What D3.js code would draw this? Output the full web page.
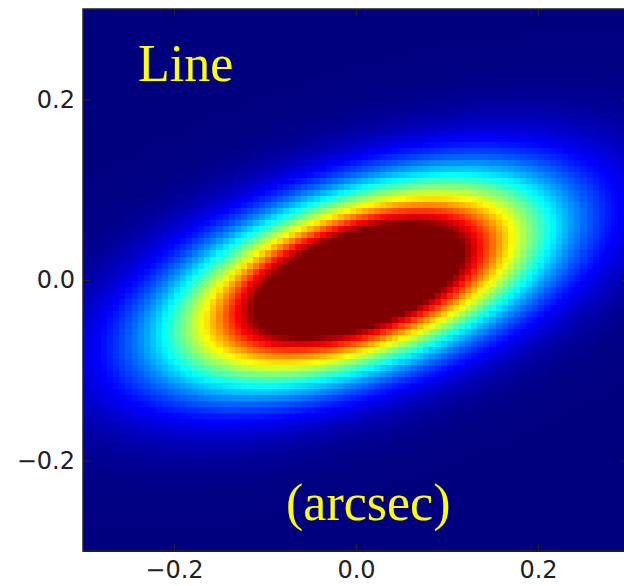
<!DOCTYPE html>
<html>
<head>
<meta charset="utf-8">
<script src="https://cdn.jsdelivr.net/npm/d3@7"></script>
<style>
  body { margin: 0; background: #fff; }
  svg { display: block; }
</style>
</head>
<body>
<svg id="chart"></svg>
<script>
// values
const extent = [-0.3, 0.3];          // arcsec, both axes
const xTicks = [-0.2, 0.0, 0.2];
const yTicks = [-0.2, 0.0, 0.2];
const center = [0.002, 0.0];         // source centre (arcsec)
const sigmas = [0.134, 0.058];       // major, minor sigma (arcsec)
const angleDeg = 19;                 // position of major axis, from +x
const peak = 1.5;                    // peak value, colour scale clips at 1
const gridSize = 90;                 // image pixels per side
const titleText = "Line";
const unitText = "(arcsec)";

const width = 624, height = 586;
const margin = { top: 9, right: -5, bottom: 35, left: 83 };
const w = width - margin.left - margin.right;
const h = height - margin.top - margin.bottom;

const svg = d3.select("#chart")
  .attr("width", width)
  .attr("height", height);

const g = svg.append("g")
  .attr("transform", "translate(" + margin.left + "," + margin.top + ")");

const x = d3.scaleLinear().domain(extent).range([0, w]);
const y = d3.scaleLinear().domain(extent).range([h, 0]);

// jet colour map
const jet = d3.scaleLinear()
  .domain([0, 0.125, 0.375, 0.625, 0.875, 1])
  .range(["#00007f", "#0000ff", "#00ffff", "#ffff00", "#ff0000", "#7f0000"])
  .clamp(true);

// build the image cells
const step = (extent[1] - extent[0]) / gridSize;
const th = angleDeg * Math.PI / 180;
const cells = [];
for (let j = 0; j < gridSize; j++) {
  for (let i = 0; i < gridSize; i++) {
    const cx = extent[0] + (i + 0.5) * step;
    const cy = extent[0] + (j + 0.5) * step;
    const dx = cx - center[0], dy = cy - center[1];
    const u = dx * Math.cos(th) + dy * Math.sin(th);
    const v = -dx * Math.sin(th) + dy * Math.cos(th);
    const val = peak * Math.exp(-0.5 * ((u / sigmas[0]) ** 2 + (v / sigmas[1]) ** 2));
    cells.push({ x0: extent[0] + i * step, y0: extent[0] + (j + 1) * step, val: val });
  }
}

g.append("g")
  .attr("shape-rendering", "crispEdges")
  .selectAll("rect")
  .data(cells)
  .enter().append("rect")
  .attr("x", d => x(d.x0))
  .attr("y", d => y(d.y0))
  .attr("width", x(step) - x(0) + 0.6)
  .attr("height", y(0) - y(step) + 0.6)
  .attr("fill", d => jet(d.val));

// annotations
g.append("text")
  .attr("x", 55)
  .attr("y", 72)
  .attr("fill", "#ffff00")
  .style("font-family", "'Liberation Serif', 'Times New Roman', serif")
  .style("font-size", "52px")
  .text(titleText);

g.append("text")
  .attr("x", 203)
  .attr("y", 511)
  .attr("fill", "#ffff00")
  .style("font-family", "'Liberation Serif', 'Times New Roman', serif")
  .style("font-size", "52px")
  .text(unitText);

// axes, ticks pointing in
const fmt = d3.format(".1f");
function styleAxis(sel) {
  sel.select(".domain").remove();
  sel.selectAll("line").attr("stroke", "#222").attr("stroke-width", 1.3);
  sel.selectAll("text")
    .attr("fill", "#222")
    .style("font-family", "'DejaVu Sans', sans-serif")
    .style("font-size", "24px");
}

g.append("g")
  .attr("transform", "translate(0," + h + ")")
  .call(d3.axisBottom(x).tickValues(xTicks).tickFormat(fmt).tickSizeInner(-7).tickPadding(10))
  .call(styleAxis);

g.append("g")
  .call(d3.axisLeft(y).tickValues(yTicks).tickFormat(fmt).tickSizeInner(-7).tickPadding(8))
  .call(styleAxis);

g.append("g")
  .call(d3.axisTop(x).tickValues(xTicks).tickFormat("").tickSizeInner(-7))
  .call(styleAxis);

g.append("g")
  .attr("transform", "translate(" + w + ",0)")
  .call(d3.axisRight(y).tickValues(yTicks).tickFormat("").tickSizeInner(-7))
  .call(styleAxis);

// frame
g.append("rect")
  .attr("width", w)
  .attr("height", h)
  .attr("fill", "none")
  .attr("stroke", "#222")
  .attr("stroke-width", 1.5);
</script>
</body>
</html>
